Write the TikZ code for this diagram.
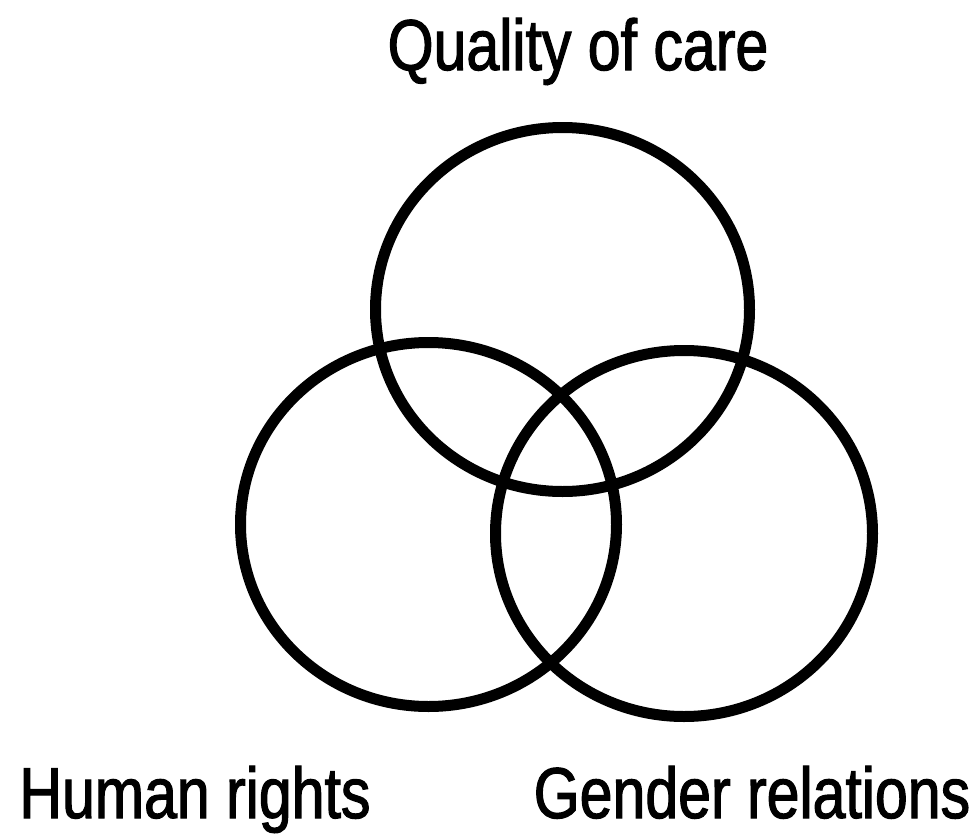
\documentclass[tikz,border=0pt]{standalone}
\usepackage{fontspec}
\setmainfont{Liberation Sans}
\newfontfamily\labelfont[FakeStretch=0.82,FakeBold=1.6]{Liberation Sans}
\usetikzlibrary{shapes.geometric}
\begin{document}
\begin{tikzpicture}[x=1pt,y=-1pt,
  ring/.style={ellipse, draw=black, line width=11pt, inner sep=0pt},
  caption/.style={font=\labelfont\fontsize{72}{80}\selectfont, inner sep=0pt, anchor=base}]
  \useasboundingbox (0,0) rectangle (980,835);
  % the three overlapping rings
  \node[ring, minimum width=374pt, minimum height=364pt] (care)   at (562.5,309.5) {};
  \node[ring, minimum width=376pt, minimum height=364pt] (rights) at (428.5,524.5) {};
  \node[ring, minimum width=377pt, minimum height=366pt] (gender) at (684,533.5) {};
  % captions
  \node[caption] (carelbl)   at (578,70)  {Quality of care};
  \node[caption] (rightslbl) at (195,818) {Human rights};
  \node[caption] (genderlbl) at (752,818) {Gender relations};
\end{tikzpicture}
\end{document}
